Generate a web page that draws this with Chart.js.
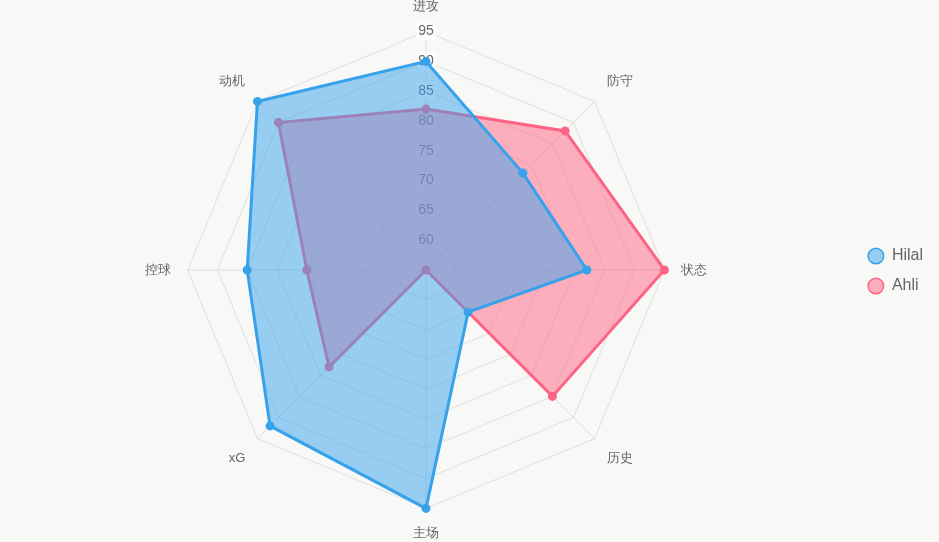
<!DOCTYPE html>
<html>
<head>
<meta charset="utf-8">
<script src="https://cdn.jsdelivr.net/npm/chart.js@4"></script>
<style>
html,body{margin:0;padding:0;background:#f8f8f6;}
#wrap{width:939px;height:542px;position:relative;}
</style>
</head>
<body>
<div id="wrap"><canvas id="c"></canvas></div>
<script>
const categories = ['进攻', '防守', '状态', '历史', '主场', 'xG', '控球', '动机'];
const hilalValues = [90, 78, 82, 65, 95, 92, 85, 95];
const ahliValues = [82, 88, 95, 85, 55, 78, 75, 90];
const seriesNames = ['Hilal', 'Ahli'];

Chart.defaults.font.family = "'Liberation Sans', Arial, Helvetica, sans-serif";
Chart.defaults.color = '#666';

new Chart(document.getElementById('c'), {
  type: 'radar',
  data: {
    labels: categories,
    datasets: [
      {
        label: seriesNames[0],
        data: hilalValues,
        borderColor: 'rgb(54,162,235)',
        backgroundColor: 'rgba(54,162,235,0.5)',
        pointBackgroundColor: 'rgba(54,162,235,0.5)',
        pointBorderColor: 'rgb(54,162,235)',
        borderWidth: 3,
        pointRadius: 3
      },
      {
        label: seriesNames[1],
        data: ahliValues,
        borderColor: 'rgb(255,99,132)',
        backgroundColor: 'rgba(255,99,132,0.5)',
        pointBackgroundColor: 'rgba(255,99,132,0.5)',
        pointBorderColor: 'rgb(255,99,132)',
        borderWidth: 3,
        pointRadius: 3
      }
    ]
  },
  options: {
    responsive: true,
    maintainAspectRatio: false,
    animation: false,
    layout: { padding: { right: 6 } },
    plugins: {
      legend: {
        position: 'right',
        labels: {
          usePointStyle: true,
          boxHeight: 11,
          font: { size: 16 },
          color: '#666',
          padding: 14,
          generateLabels(chart) {
            const items = Chart.defaults.plugins.legend.labels.generateLabels(chart);
            items.forEach(it => { it.lineWidth = 1.5; });
            return items;
          }
        }
      },
      tooltip: { enabled: false }
    },
    scales: {
      r: {
        min: 55,
        max: 95,
        ticks: {
          stepSize: 5,
          font: { size: 14 },
          color: '#666',
          backdropColor: 'rgba(255,255,255,0.75)'
        },
        pointLabels: {
          font: { size: 13 },
          color: '#666',
          padding: 8
        },
        grid: { color: 'rgba(0,0,0,0.1)' },
        angleLines: { color: 'rgba(0,0,0,0.1)' }
      }
    }
  }
});
</script>
</body>
</html>
